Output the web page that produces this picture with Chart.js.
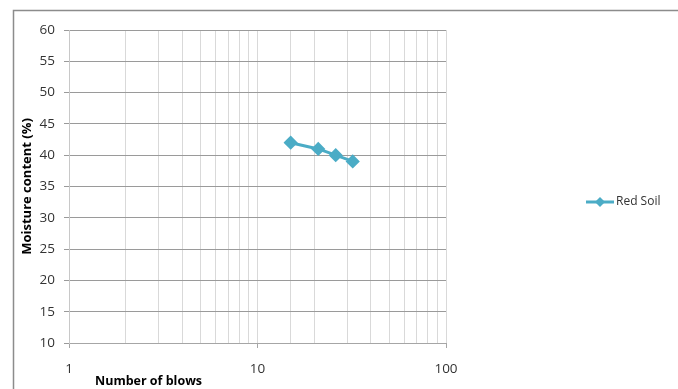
<!DOCTYPE html>
<html>
<head>
<meta charset="utf-8">
<script src="https://cdn.jsdelivr.net/npm/chart.js@4/dist/chart.umd.min.js"></script>
<style>
  html, body { margin: 0; padding: 0; background: #fff; }
  #wrap { width: 678px; height: 389px; position: relative; }
</style>
</head>
<body>
<div id="wrap"><canvas id="c" width="678" height="389"></canvas></div>
<script>
// Liquid limit test: moisture content against number of blows
const seriesName = 'Red Soil';
const blows = [15, 21, 26, 32];
const moisture = [42, 41, 40, 39];
const xLabelValues = [1, 10, 100];
const yMin = 10, yMax = 60, yStep = 5;
const xTitle = 'Number of blows';
const yTitle = 'Moisture content (%)';

const lineColor = '#4bacc6';
const textColor = '#333333';
const tickFont = { family: 'Open Sans', size: 13.5 };

// frame of the whole chart area (left and top edges)
const framePlugin = {
  id: 'frame',
  beforeDraw(chart) {
    const ctx = chart.ctx;
    ctx.save();
    ctx.strokeStyle = '#8c8c8c';
    ctx.lineWidth = 1.5;
    ctx.beginPath();
    ctx.moveTo(13.5, chart.height + 2);
    ctx.lineTo(13.5, 10.5);
    ctx.lineTo(chart.width + 2, 10.5);
    ctx.stroke();
    ctx.restore();
  }
};

// axis titles and the legend entry
const labelsPlugin = {
  id: 'labels',
  afterDraw(chart) {
    const ctx = chart.ctx;
    const area = chart.chartArea;
    ctx.save();
    ctx.fillStyle = '#000';
    // y title, rotated, centred on the plot height
    ctx.save();
    ctx.font = 'bold 13px "Open Sans"';
    ctx.translate(27, (area.top + area.bottom) / 2);
    ctx.rotate(-Math.PI / 2);
    ctx.textAlign = 'center';
    ctx.textBaseline = 'middle';
    ctx.fillText(yTitle, 0, 0);
    ctx.restore();
    // x title
    ctx.font = 'bold 12.5px "Open Sans"';
    ctx.textAlign = 'left';
    ctx.textBaseline = 'middle';
    ctx.fillText(xTitle, 95, 381);

    // legend: line with diamond marker, then the series name
    const ds = chart.data.datasets[0];
    const ly = 202;
    ctx.strokeStyle = ds.borderColor;
    ctx.lineWidth = 3;
    ctx.beginPath();
    ctx.moveTo(586, ly);
    ctx.lineTo(614, ly);
    ctx.stroke();
    ctx.fillStyle = ds.pointBackgroundColor;
    ctx.beginPath();
    ctx.moveTo(600, ly - 5);
    ctx.lineTo(605, ly);
    ctx.lineTo(600, ly + 5);
    ctx.lineTo(595, ly);
    ctx.closePath();
    ctx.fill();
    ctx.fillStyle = textColor;
    ctx.font = '12px "Open Sans"';
    ctx.textAlign = 'left';
    ctx.fillText(ds.label, 616, ly);
    ctx.restore();
  }
};

const isDecade = v => Math.abs(Math.log10(v) - Math.round(Math.log10(v))) < 1e-9;

new Chart(document.getElementById('c'), {
  type: 'line',
  data: {
    datasets: [{
      label: seriesName,
      data: blows.map((b, i) => ({ x: b, y: moisture[i] })),
      borderColor: lineColor,
      backgroundColor: lineColor,
      pointBackgroundColor: lineColor,
      pointBorderColor: lineColor,
      borderWidth: 3,
      pointStyle: 'rectRot',
      pointRadius: 5,
      pointHoverRadius: 5,
      tension: 0,
      fill: false
    }]
  },
  options: {
    responsive: false,
    animation: false,
    events: [],
    layout: { padding: { left: 0, top: 30, right: 678 - 446, bottom: 0 } },
    plugins: {
      legend: { display: false },
      tooltip: { enabled: false }
    },
    scales: {
      x: {
        type: 'logarithmic',
        min: 1,
        max: 100,
        afterFit(scale) { scale.height = 389 - 343; },
        border: { display: true, color: '#a6a6a6', width: 1 },
        grid: {
          color: ctx => '#d9d9d9',
          tickColor: ctx => (ctx.tick && isDecade(ctx.tick.value)) ? '#a6a6a6' : 'rgba(0,0,0,0)',
          tickLength: 5,
          drawTicks: true
        },
        ticks: {
          autoSkip: false,
          maxRotation: 0,
          padding: 13,
          color: textColor,
          font: tickFont,
          callback: (v) => xLabelValues.includes(v) ? String(v) : ''
        }
      },
      y: {
        type: 'linear',
        min: yMin,
        max: yMax,
        afterFit(scale) { scale.width = 69; },
        border: { display: true, color: '#c8c8c8', width: 1 },
        grid: {
          color: '#9a9a9a',
          tickColor: '#9a9a9a',
          tickLength: 5
        },
        ticks: {
          stepSize: yStep,
          padding: 9,
          color: textColor,
          font: tickFont
        }
      }
    }
  },
  plugins: [framePlugin, labelsPlugin]
});
</script>
</body>
</html>
